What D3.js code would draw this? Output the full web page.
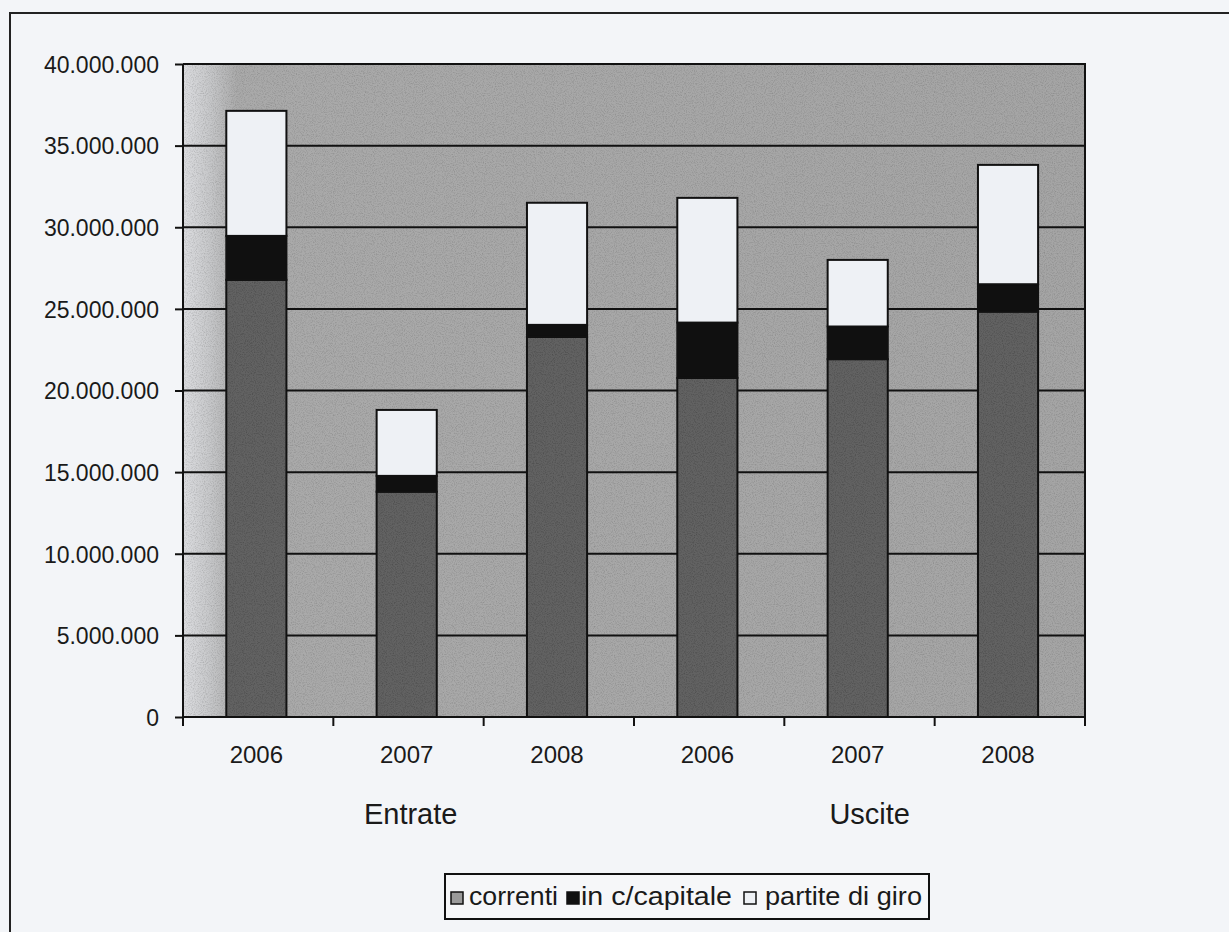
<!DOCTYPE html>
<html>
<head>
<meta charset="utf-8">
<script src="https://cdn.jsdelivr.net/npm/d3@7"></script>
<style>
  html, body { margin: 0; padding: 0; background: #f3f5f8; }
  svg { display: block; }
  text { font-family: "Liberation Sans", Arial, sans-serif; fill: #1a1a1a; }
</style>
</head>
<body>
<svg id="chart" width="1229" height="932"></svg>
<script>
// ---- data ----
const categories = ["e2006", "e2007", "e2008", "u2006", "u2007", "u2008"];
const yearLabels = ["2006", "2007", "2008", "2006", "2007", "2008"];
const groupLabels = ["Entrate", "Uscite"];
const groupMembers = [["e2006", "e2007", "e2008"], ["u2006", "u2007", "u2008"]];
const seriesNames = ["correnti", "in c/capitale", "partite di giro"];
const correnti = [26780000, 13800000, 23280000, 20770000, 21920000, 24830000];
const capitale = [2690000, 970000, 740000, 3390000, 2000000, 1680000];
const partite  = [7660000, 4040000, 7480000, 7640000, 4080000, 7310000];
const yTicks = [0, 5000000, 10000000, 15000000, 20000000, 25000000, 30000000, 35000000, 40000000];

(function () {
// ---- layout ----
const svg = d3.select("#chart");
const pL = 183, pR = 1085, pT = 64, pB = 717;
const colors = ["#626262", "#101010", "#eef1f5"];

const locale = d3.formatLocale({decimal: ",", thousands: ".", grouping: [3], currency: ["€", ""]});
const fmt = locale.format(",d");

const x = d3.scaleBand().domain(categories).range([pL, pR]).paddingInner(0.6).paddingOuter(0.3).align(0.48);
const y = d3.scaleLinear().domain([0, 40000000]).range([pB, pT]);

// defs: background gradient + grain
const defs = svg.append("defs");
const grad = defs.append("linearGradient").attr("id", "bg").attr("x1", "0").attr("x2", "1").attr("y1", "0").attr("y2", "0");
grad.append("stop").attr("offset", "0").attr("stop-color", "#dcdde0");
grad.append("stop").attr("offset", "0.03").attr("stop-color", "#c6c7c9");
grad.append("stop").attr("offset", "0.06").attr("stop-color", "#aaaaaa");
grad.append("stop").attr("offset", "1").attr("stop-color", "#a5a5a5");
const grain = defs.append("filter").attr("id", "grain").attr("x", 0).attr("y", 0).attr("width", "100%").attr("height", "100%");
grain.append("feTurbulence").attr("type", "fractalNoise").attr("baseFrequency", "0.9").attr("numOctaves", 2).attr("seed", 3).attr("result", "n");
grain.append("feColorMatrix").attr("in", "n").attr("type", "matrix")
  .attr("values", "0 0 0 0 0  0 0 0 0 0  0 0 0 0 0  0 0 0 -1.4 0.8").attr("result", "a");
grain.append("feComposite").attr("in", "a").attr("in2", "SourceGraphic").attr("operator", "in");

// outer frame (extends past the picture edge on the right and bottom)
svg.append("path").attr("d", `M10,940 L10,13 L1240,13`).attr("fill", "none").attr("stroke", "#222").attr("stroke-width", 2);

// plot area
svg.append("rect").attr("x", pL).attr("y", pT).attr("width", pR - pL).attr("height", pB - pT)
  .attr("fill", "url(#bg)");
svg.append("rect").attr("x", pL).attr("y", pT).attr("width", pR - pL).attr("height", pB - pT)
  .attr("fill", "#000").attr("opacity", 0.22).attr("filter", "url(#grain)");

// gridlines
svg.append("g").selectAll("line").data(yTicks.filter(d => d > 0)).join("line")
  .attr("x1", pL).attr("x2", pR).attr("y1", d => y(d)).attr("y2", d => y(d))
  .attr("stroke", "#111").attr("stroke-width", 2);
// plot border top/right
svg.append("path").attr("d", `M${pL},${pT} L${pR},${pT} L${pR},${pB}`)
  .attr("fill", "none").attr("stroke", "#111").attr("stroke-width", 2);

// stacked bars
const rows = categories.map((c, i) => ({cat: c, correnti: correnti[i], capitale: capitale[i], partite: partite[i]}));
const stack = d3.stack().keys(["correnti", "capitale", "partite"])(rows);
const barG = svg.append("g");
stack.forEach((layer, li) => {
  const g = barG.append("g");
  g.selectAll("rect.seg").data(layer).join("rect").attr("class", "seg")
    .attr("x", d => x(d.data.cat))
    .attr("width", x.bandwidth())
    .attr("y", d => y(d[1]))
    .attr("height", d => y(d[0]) - y(d[1]))
    .attr("fill", colors[li])
    .attr("stroke", "#111").attr("stroke-width", 2);
  if (li === 0) {
    g.selectAll("rect.gr").data(layer).join("rect").attr("class", "gr")
      .attr("x", d => x(d.data.cat) + 1).attr("width", x.bandwidth() - 2)
      .attr("y", d => y(d[1]) + 1).attr("height", d => y(d[0]) - y(d[1]) - 2)
      .attr("fill", "#000").attr("opacity", 0.3).attr("filter", "url(#grain)");
  }
});

// y axis
const yAxis = d3.axisLeft(y).tickValues(yTicks).tickFormat(fmt).tickSize(8).tickPadding(16);
const yg = svg.append("g").attr("transform", `translate(${pL},0)`).call(yAxis);
yg.select(".domain").attr("stroke", "#111").attr("stroke-width", 2).attr("d", `M0,${pT}V${pB}`);
yg.selectAll(".tick line").attr("stroke", "#111").attr("stroke-width", 2);
yg.selectAll(".tick text").attr("font-size", 23).attr("font-family", "Liberation Sans, Arial, sans-serif")
  .attr("fill", "#1a1a1a").attr("dy", "0.36em");

// x axis: ticks at category boundaries
const xg = svg.append("g");
xg.append("line").attr("x1", pL).attr("x2", pR).attr("y1", pB).attr("y2", pB)
  .attr("stroke", "#111").attr("stroke-width", 2);
const step = (pR - pL) / categories.length;
const bnd = d3.range(categories.length + 1).map(i => pL + i * step);
xg.selectAll("line.t").data(bnd).join("line").attr("class", "t")
  .attr("x1", d => d).attr("x2", d => d).attr("y1", pB).attr("y2", pB + 9)
  .attr("stroke", "#111").attr("stroke-width", 2);
xg.selectAll("text.yr").data(categories).join("text").attr("class", "yr")
  .attr("x", d => x(d) + x.bandwidth() / 2)
  .attr("y", 763).attr("text-anchor", "middle").attr("font-size", 24)
  .text((d, i) => yearLabels[i]);

// group labels
svg.selectAll("text.grp").data(groupLabels).join("text").attr("class", "grp")
  .attr("x", (d, i) => {
    const m = groupMembers[i];
    return (x(m[0]) + x(m[m.length - 1]) + x.bandwidth()) / 2 + (i === 0 ? 4 : 12);
  })
  .attr("y", 824).attr("text-anchor", "middle").attr("font-size", 29)
  .text(d => d);

// legend
const lg = svg.append("g");
lg.append("rect").attr("x", 445).attr("y", 874).attr("width", 484).attr("height", 45)
  .attr("fill", "#f6f7f9").attr("stroke", "#111").attr("stroke-width", 2);
const legendX = [451, 567, 744];
const legendTextX = [469, 581, 765];
const legendW = [89, 151, 157];
seriesNames.forEach((name, i) => {
  lg.append("rect").attr("x", legendX[i]).attr("y", 892).attr("width", 12).attr("height", 12)
    .attr("fill", i === 0 ? "#9a9a9a" : colors[i]).attr("stroke", "#111").attr("stroke-width", 1.5);
  lg.append("text").attr("x", legendTextX[i]).attr("y", 905).attr("font-size", 25)
    .attr("textLength", legendW[i]).attr("lengthAdjust", "spacingAndGlyphs")
    .text(name);
});
})();
</script>
</body>
</html>
